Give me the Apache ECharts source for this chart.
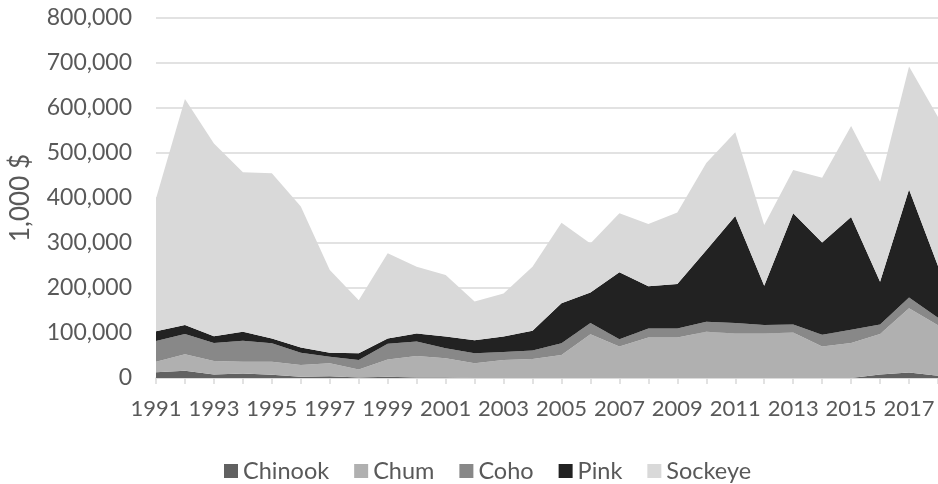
<!DOCTYPE html>
<html>
<head>
<meta charset="utf-8">
<script src="https://cdn.jsdelivr.net/npm/echarts@6/dist/echarts.min.js"></script>
<style>
  html, body { margin: 0; padding: 0; background: #ffffff; }
  #chart { width: 938px; height: 484px; }
</style>
</head>
<body>
<div id="chart"></div>
<script>
// Ex-vessel value of salmon landings by species, 1,000 $
const years = ['1991','1992','1993','1994','1995','1996','1997','1998','1999','2000',
  '2001','2002','2003','2004','2005','2006','2007','2008','2009','2010',
  '2011','2012','2013','2014','2015','2016','2017','2018'];

const chinook = [13000,16000,8000,10000,7000,3000,4000,1000,3000,1000,
  1000,0,0,0,0,0,0,0,0,0,
  0,0,0,0,0,8000,12000,5000];
const chum = [23000,37000,30000,26000,29000,26000,29000,18000,38000,48000,
  43000,33000,40000,42000,51000,97000,70000,90000,90000,103000,
  99000,99000,101000,70000,78000,90000,143000,112000];
const coho = [46000,45000,40000,47000,41000,27000,14000,21000,35000,32000,
  22000,22000,18000,19000,26000,25000,16000,20000,20000,22000,
  23000,19000,18000,26000,29000,21000,24000,17000];
const pink = [22000,20000,15000,20000,11000,12000,9000,15000,12000,18000,
  26000,29000,34000,44000,89000,68000,149000,94000,99000,159000,
  238000,87000,247000,205000,251000,95000,240000,115000];
const sockeye = [295000,502000,428000,354000,367000,313000,184000,118000,189000,148000,
  137000,86000,96000,142000,179000,109000,131000,138000,159000,194000,
  186000,135000,96000,144000,202000,222000,273000,331000];

const seriesNames = ['Chinook', 'Chum', 'Coho', 'Pink', 'Sockeye'];
const seriesData = [chinook, chum, coho, pink, sockeye];
const seriesColors = ['#616161', '#b0b0b0', '#888888', '#222222', '#d9d9d9'];

const FONT = 'Lato, "Open Sans", sans-serif';
const TEXT = '#595959';

const chart = echarts.init(document.getElementById('chart'), null, { renderer: 'canvas' });

chart.setOption({
  animation: false,
  backgroundColor: '#ffffff',
  color: seriesColors,
  grid: { left: 155, right: -6, top: 18, bottom: 106, containLabel: false },
  legend: {
    top: 454,
    left: 219,
    icon: 'rect',
    itemWidth: 14,
    itemHeight: 14,
    itemGap: 25,
    textStyle: { fontFamily: FONT, fontSize: 23.5, color: TEXT },
    data: seriesNames
  },
  xAxis: {
    type: 'category',
    data: years,
    boundaryGap: false,
    axisLine: { lineStyle: { color: '#d9d9d9', width: 1.5 } },
    axisTick: { show: true, interval: 0, length: 6, lineStyle: { color: '#d9d9d9', width: 1.5 } },
    axisLabel: {
      interval: 1,
      margin: 20,
      fontFamily: FONT,
      fontSize: 22,
      color: TEXT
    },
    splitLine: { show: false }
  },
  yAxis: {
    type: 'value',
    min: 0,
    max: 800000,
    interval: 100000,
    name: '1,000 $',
    nameLocation: 'middle',
    nameRotate: 90,
    nameGap: 122,
    nameTextStyle: { fontFamily: FONT, fontSize: 26, color: TEXT },
    axisLine: { show: false },
    axisTick: { show: false },
    axisLabel: {
      margin: 24,
      fontFamily: FONT,
      fontSize: 23,
      color: TEXT,
      formatter: v => v.toLocaleString('en-US')
    },
    splitLine: { lineStyle: { color: '#d9d9d9', width: 1.5 } }
  },
  series: seriesNames.map((name, i) => ({
    name: name,
    type: 'line',
    stack: 'total',
    data: seriesData[i],
    showSymbol: false,
    symbol: 'none',
    lineStyle: { width: 0 },
    areaStyle: { color: seriesColors[i], opacity: 1 },
    itemStyle: { color: seriesColors[i] },
    z: 2
  }))
});
</script>
</body>
</html>
